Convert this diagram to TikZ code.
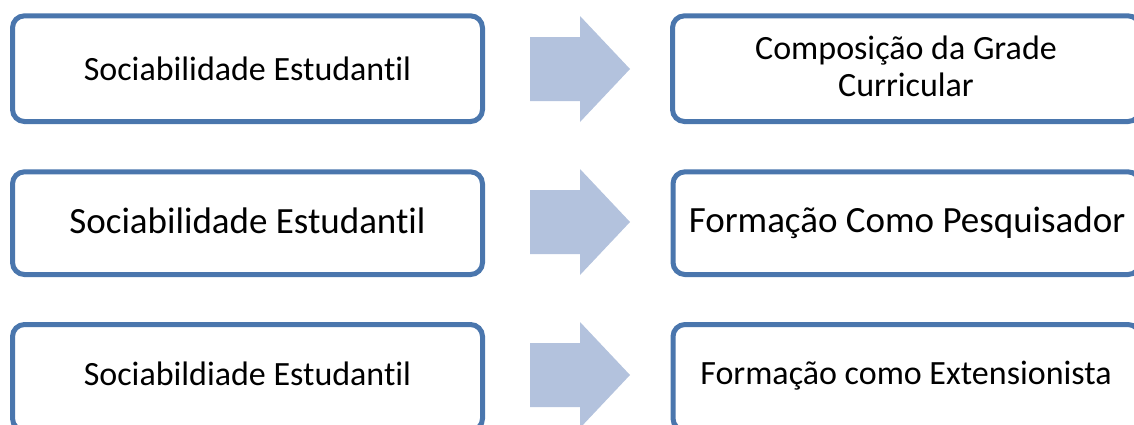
\documentclass[tikz,border=0pt]{standalone}
\usepackage{fontspec}
\setmainfont{Carlito}[Ligatures={NoCommon}]
\definecolor{boxline}{RGB}{74,118,173}
\definecolor{arrowfill}{RGB}{179,194,221}
\tikzset{
  box/.style={draw=boxline, line width=5pt, rounded corners=12pt, fill=white},
  lbl/.style={anchor=base, inner sep=0pt, text=black, align=center},
  bigarrow/.style={fill=arrowfill, draw=none},
}
\newcommand{\blockarrow}[1]{%
  \fill[bigarrow] ($(#1)+(-50,-32)$) -- ($(#1)+(0,-32)$) -- ($(#1)+(0,-53)$) -- ($(#1)+(50,0)$)
     -- ($(#1)+(0,53)$) -- ($(#1)+(0,32)$) -- ($(#1)+(-50,32)$) -- cycle;}
\usetikzlibrary{calc}
\begin{document}
\begin{tikzpicture}[x=1pt,y=-1pt]
\useasboundingbox (0,0) rectangle (1134,424);
\clip (0,0) rectangle (1134,424);
% left boxes
\draw[box] (12.5,15.8) rectangle (482.5,121.5);
\draw[box] (12.5,171.8) rectangle (482.5,274.5);
\draw[box] (12.5,324.5) rectangle (482.5,430.5);
% right boxes
\draw[box] (672.5,15.8) rectangle (1140,121.5);
\draw[box] (673,171.8) rectangle (1140,274.5);
\draw[box] (673,324.5) rectangle (1140,430.5);
% arrows
\coordinate (a1) at (580,69);
\coordinate (a2) at (580,222);
\coordinate (a3) at (580,375);
\blockarrow{a1}
\blockarrow{a2}
\blockarrow{a3}
% texts
\node[lbl, font=\fontsize{34}{37}\selectfont] (t1) at (247.5,80) {Sociabilidade Estudantil};
\node[lbl, font=\fontsize{37}{40}\selectfont] (t2) at (247.5,233) {Sociabilidade Estudantil};
\node[lbl, font=\fontsize{34}{37}\selectfont] (t3) at (247.5,385) {Sociabildiade Estudantil};
\node[lbl, font=\fontsize{34}{37}\selectfont] (r1) at (906,96) {Composição da Grade\\Curricular};
\node[lbl, font=\fontsize{37}{40}\selectfont] (r2) at (907,232) {Formação Como Pesquisador};
\node[lbl, font=\fontsize{34}{37}\selectfont] (r3) at (906,384) {Formação como Extensionista};
\end{tikzpicture}
\end{document}
